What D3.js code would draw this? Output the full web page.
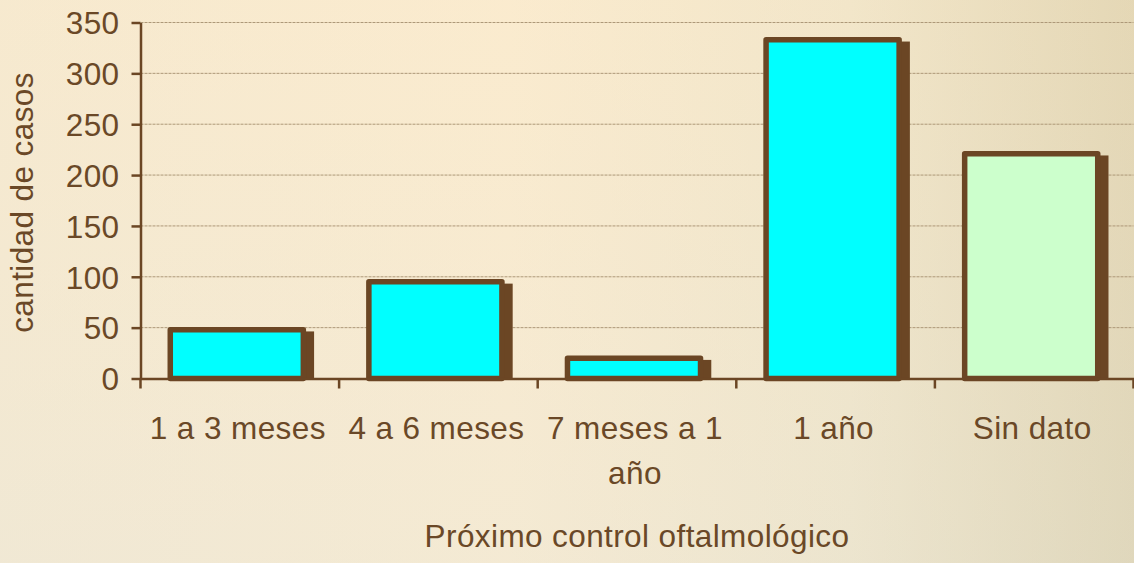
<!DOCTYPE html>
<html>
<head>
<meta charset="utf-8">
<script src="https://cdn.jsdelivr.net/npm/d3@7"></script>
<style>
  html, body { margin: 0; padding: 0; overflow: hidden; }
  text { font-family: "Liberation Sans", Arial, sans-serif; fill: #6a4827; }
</style>
</head>
<body>
<div id="chart"></div>
<script>
// data
const categories = ['1 a 3 meses', '4 a 6 meses', '7 meses a 1 año', '1 año', 'Sin dato'];
const casos = [48, 95, 20, 333, 221];
const yTicks = [0, 50, 100, 150, 200, 250, 300, 350];
const yTitle = 'cantidad de casos';
const xTitle = 'Próximo control oftalmológico';

const barFills = ['#00ffff', '#00ffff', '#00ffff', '#00ffff', '#ccffcc'];
const brown = '#6b4624';
const textColor = '#6a4827';
const fontSize = '31.5px';
const spacing = '0.4px';

const width = 1134, height = 563;
const margin = { top: 22.5, right: 0.5, bottom: 184.5, left: 140.5 };
const innerW = width - margin.left - margin.right;
const innerH = height - margin.top - margin.bottom;

const svg = d3.select('#chart')
  .append('svg')
  .attr('width', width)
  .attr('height', height);

// background gradient
const defs = svg.append('defs');
const bg = defs.append('linearGradient').attr('id', 'bg')
  .attr('x1', '0').attr('y1', '0').attr('x2', '1').attr('y2', '0');
bg.append('stop').attr('offset', '0').attr('stop-color', '#f4ead4');
bg.append('stop').attr('offset', '0.45').attr('stop-color', '#f9ecd3');
bg.append('stop').attr('offset', '0.75').attr('stop-color', '#eee5cc');
bg.append('stop').attr('offset', '1').attr('stop-color', '#dcd2b2');
const bgV = defs.append('linearGradient').attr('id', 'bgv')
  .attr('x1', '0').attr('y1', '0').attr('x2', '0').attr('y2', '1');
bgV.append('stop').attr('offset', '0').attr('stop-color', '#ffe8c0').attr('stop-opacity', 0.25);
bgV.append('stop').attr('offset', '1').attr('stop-color', '#e8e4d4').attr('stop-opacity', 0.3);

svg.append('rect').attr('width', width).attr('height', height).attr('fill', 'url(#bg)');
svg.append('rect').attr('width', width).attr('height', height).attr('fill', 'url(#bgv)');

const g = svg.append('g')
  .attr('transform', `translate(${margin.left},${margin.top})`);

const x = d3.scaleBand()
  .domain(categories)
  .range([0, innerW])
  .paddingInner(0.33)
  .paddingOuter(0.165);

const band = d3.scaleBand().domain(categories).range([0, innerW]);

const y = d3.scaleLinear()
  .domain([0, 350])
  .range([innerH, 0]);

// gridlines
g.append('g')
  .selectAll('line')
  .data(yTicks.filter(d => d > 0))
  .enter()
  .append('line')
  .attr('x1', 0)
  .attr('x2', innerW)
  .attr('y1', d => y(d))
  .attr('y2', d => y(d))
  .attr('stroke', '#ad9878')
  .attr('stroke-width', 1)
  .attr('stroke-dasharray', '3,1');

// bar shadows
const shift = -3;
const sw = 5.5;
g.append('g')
  .selectAll('rect')
  .data(casos)
  .enter()
  .append('rect')
  .attr('x', (d, i) => x(categories[i]) + shift - sw / 2 + 8)
  .attr('y', d => y(d) - sw / 2 + 4.5)
  .attr('width', x.bandwidth() + sw)
  .attr('height', d => innerH - y(d) + sw / 2 - 4.5)
  .attr('fill', brown);

// bars
g.append('g')
  .selectAll('rect')
  .data(casos)
  .enter()
  .append('rect')
  .attr('x', (d, i) => x(categories[i]) + shift)
  .attr('y', d => y(d))
  .attr('width', x.bandwidth())
  .attr('height', d => innerH - y(d))
  .attr('fill', (d, i) => barFills[i])
  .attr('stroke', brown)
  .attr('stroke-width', sw)
  .attr('stroke-linejoin', 'round');

// y axis
const yAxis = g.append('g')
  .call(d3.axisLeft(y).tickValues(yTicks).tickSize(9).tickPadding(12).tickSizeOuter(0));
yAxis.select('.domain').attr('stroke', brown).attr('stroke-width', 2.5);
yAxis.selectAll('.tick line').attr('stroke', brown).attr('stroke-width', 2.5);
yAxis.selectAll('.tick text')
  .attr('fill', textColor)
  .style('font-size', fontSize)
  .style('letter-spacing', spacing)
  .attr('dy', '0.36em');

// x axis
const xAxis = g.append('g')
  .attr('transform', `translate(0,${innerH})`)
  .call(d3.axisBottom(band).tickSize(0).tickFormat(''));
xAxis.select('.domain').attr('stroke', brown).attr('stroke-width', 2.5);

// x ticks at band boundaries
g.append('g')
  .selectAll('line')
  .data(categories.concat(['end']))
  .enter()
  .append('line')
  .attr('x1', (d, i) => i < categories.length ? band(d) : innerW)
  .attr('x2', (d, i) => i < categories.length ? band(d) : innerW)
  .attr('y1', innerH)
  .attr('y2', innerH + 10)
  .attr('stroke', brown)
  .attr('stroke-width', 2.5);

// x labels with wrapping
function wrap(textSel, maxW) {
  textSel.each(function (d) {
    const text = d3.select(this);
    const words = d.split(' ');
    const lines = [];
    let line = [];
    const probe = text.append('tspan');
    words.forEach(w => {
      line.push(w);
      probe.text(line.join(' '));
      if (probe.node().getComputedTextLength() > maxW && line.length > 1) {
        line.pop();
        lines.push(line.join(' '));
        line = [w];
      }
    });
    lines.push(line.join(' '));
    probe.remove();
    lines.forEach((l, k) => {
      text.append('tspan')
        .attr('x', text.attr('x'))
        .attr('dy', k === 0 ? 0 : 45.5)
        .text(l);
    });
  });
}

g.append('g')
  .selectAll('text')
  .data(categories)
  .enter()
  .append('text')
  .attr('x', d => band(d) + band.bandwidth() / 2 - 2)
  .attr('y', innerH + 60)
  .attr('text-anchor', 'middle')
  .style('font-size', fontSize)
  .style('letter-spacing', spacing)
  .call(wrap, band.bandwidth() - 6);

// axis titles
svg.append('text')
  .attr('transform', `translate(33,${margin.top + innerH / 2 + 2}) rotate(-90)`)
  .attr('text-anchor', 'middle')
  .style('font-size', fontSize)
  .style('letter-spacing', spacing)
  .text(yTitle);

svg.append('text')
  .attr('x', 637)
  .attr('y', 547)
  .attr('text-anchor', 'middle')
  .style('font-size', fontSize)
  .style('letter-spacing', spacing)
  .text(xTitle);
</script>
</body>
</html>
